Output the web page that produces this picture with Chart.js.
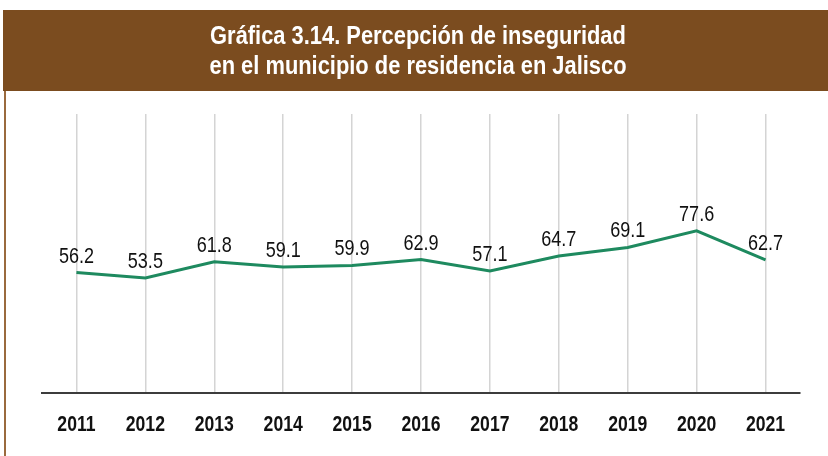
<!DOCTYPE html>
<html>
<head>
<meta charset="utf-8">
<script src="https://cdn.jsdelivr.net/npm/chart.js@4/dist/chart.umd.min.js"></script>
<style>
  html, body { margin: 0; padding: 0; background: #ffffff; }
  #c { display: block; }
</style>
</head>
<body>
<canvas id="c" width="828" height="456"></canvas>
<script>
const titleLines = ["Gráfica 3.14. Percepción de inseguridad", "en el municipio de residencia en Jalisco"];
const years = ["2011","2012","2013","2014","2015","2016","2017","2018","2019","2020","2021"];
const values = [56.2, 53.5, 61.8, 59.1, 59.9, 62.9, 57.1, 64.7, 69.1, 77.6, 62.7];

const FONT = '"Liberation Sans", Arial, sans-serif';

function narrowText(ctx, text, x, y, k) {
  ctx.save();
  ctx.translate(x, y);
  ctx.scale(k, 1);
  ctx.fillText(text, 0, 0);
  ctx.restore();
}

const decor = {
  id: 'decor',
  beforeDraw(chart) {
    const ctx = chart.ctx;
    ctx.save();
    ctx.fillStyle = '#7b4c1f';
    ctx.fillRect(3, 10, 825, 81);
    ctx.fillStyle = '#9a6a3e';
    ctx.fillRect(4, 91, 2, 365);
    ctx.fillStyle = '#ffffff';
    ctx.font = 'bold 25px ' + FONT;
    ctx.textAlign = 'center';
    ctx.textBaseline = 'alphabetic';
    narrowText(ctx, titleLines[0], 418, 43.5, 0.875);
    narrowText(ctx, titleLines[1], 418, 73.5, 0.875);
    ctx.restore();
  },
  afterDatasetsDraw(chart) {
    const ctx = chart.ctx;
    const meta = chart.getDatasetMeta(0);
    const xs = chart.scales.x;
    ctx.save();
    ctx.fillStyle = '#111111';
    ctx.textAlign = 'center';
    ctx.textBaseline = 'alphabetic';
    ctx.font = '22px ' + FONT;
    meta.data.forEach((pt, i) => {
      narrowText(ctx, values[i].toFixed(1), pt.x, pt.y - 10, 0.82);
    });
    ctx.font = 'bold 22px ' + FONT;
    years.forEach((y, i) => {
      narrowText(ctx, y, xs.getPixelForTick(i), 431, 0.8);
    });
    ctx.restore();
  }
};

new Chart(document.getElementById('c'), {
  type: 'line',
  data: {
    labels: years,
    datasets: [{
      data: values,
      borderColor: '#1e8a5f',
      borderWidth: 3,
      pointRadius: 0,
      tension: 0,
      fill: false
    }]
  },
  options: {
    responsive: false,
    animation: false,
    layout: { padding: { left: 42, right: 28, top: 114, bottom: 63 } },
    plugins: { legend: { display: false }, tooltip: { enabled: false }, title: { display: false } },
    scales: {
      x: {
        offset: true,
        grid: { offset: false, color: '#d4d4d4', lineWidth: 1.5, drawTicks: false },
        border: { display: true, color: '#3c3c3c', width: 2 },
        ticks: { display: false }
      },
      y: {
        display: false,
        min: -5.5,
        max: 137.5
      }
    }
  },
  plugins: [decor]
});
</script>
</body>
</html>
